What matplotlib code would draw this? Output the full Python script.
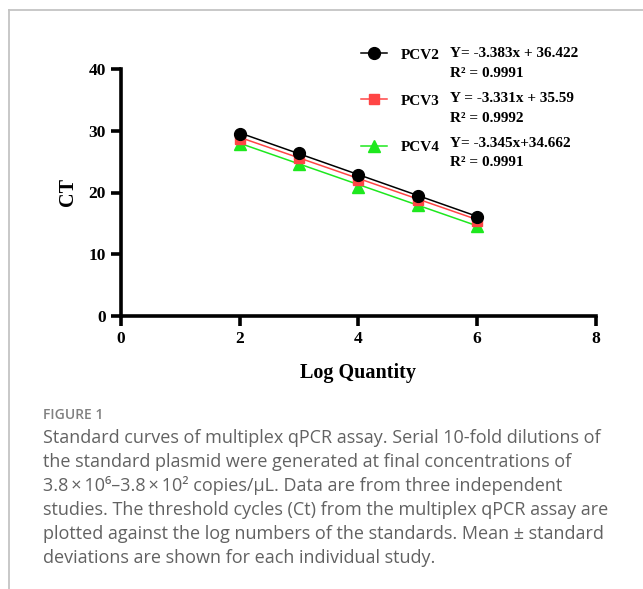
"""
Standard curves of the multiplex qPCR assay (PCV2 / PCV3 / PCV4).
Output: out.png
"""

import matplotlib
matplotlib.use("Agg")
import matplotlib.pyplot as plt
from matplotlib.lines import Line2D

# ── data ─────────────────────────────────────────────────────────────────────
log_qty  = [2, 3, 4, 5, 6]
ct_pcv2  = [29.5, 26.4, 22.8, 19.4, 16.1]
ct_pcv3  = [28.6, 25.6, 22.1, 18.8, 15.4]
ct_pcv4  = [27.8, 24.6, 20.9, 18.0, 14.5]

series   = ["PCV2", "PCV3", "PCV4"]
slopes   = [-3.383, -3.331, -3.345]
icepts   = [36.422, 35.59, 34.662]
eq_text  = ["Y= -3.383x + 36.422", "Y = -3.331x + 35.59", "Y= -3.345x+34.662"]
r2_text  = ["R² = 0.9991", "R² = 0.9992", "R² = 0.9991"]

x_ticks  = [0, 2, 4, 6, 8]
y_ticks  = [0, 10, 20, 30, 40]

caption_head  = "FIGURE 1"
caption_lines = [
    "Standard curves of multiplex qPCR assay. Serial 10-fold dilutions of",
    "the standard plasmid were generated at final concentrations of",
    "3.8\u2009×\u200910⁶–3.8\u2009×\u200910² copies/µL. Data are from three independent",
    "studies. The threshold cycles (Ct) from the multiplex qPCR assay are",
    "plotted against the log numbers of the standards. Mean ± standard",
    "deviations are shown for each individual study.",
]

# ── styles ───────────────────────────────────────────────────────────────────
W, H = 643, 589
SERIF = ["Liberation Serif", "DejaVu Serif"]
SANS  = ["Open Sans", "DejaVu Sans"]
styles = {
    "PCV2": dict(color="black",   marker="o", ms=8.5, z=5),
    "PCV3": dict(color="#ff4545", marker="s", ms=7.5, z=4),
    "PCV4": dict(color="#1ee81e", marker="^", ms=8.0, z=3),
}
ct_by_series = {"PCV2": ct_pcv2, "PCV3": ct_pcv3, "PCV4": ct_pcv4}


def fx(px):  # pixel → figure fraction
    return px / W


def fy(py):
    return 1 - py / H


fig = plt.figure(figsize=(W / 100, H / 100), dpi=100)
ax = fig.add_axes([fx(121), fy(316), fx(596) - fx(121), fy(69) - fy(316)])

handles = []
for name, m, b in zip(series, slopes, icepts):
    st = styles[name]
    xs = [log_qty[0], log_qty[-1]]
    ax.plot(xs, [m * x + b for x in xs], color=st["color"], lw=1.1, zorder=st["z"])
    ax.plot(log_qty, ct_by_series[name], ls="none", marker=st["marker"],
            ms=st["ms"], color=st["color"], zorder=st["z"] + 0.5, clip_on=False)
    handles.append(Line2D([], [], color=st["color"], lw=1.1,
                          marker=st["marker"], ms=st["ms"]))

ax.set_xlim(0, 8); ax.set_ylim(0, 40)
ax.set_xticks(x_ticks); ax.set_yticks(y_ticks)
for s in ("top", "right"):
    ax.spines[s].set_visible(False)
for s in ("left", "bottom"):
    ax.spines[s].set_linewidth(2.6)
ax.tick_params(width=2.6, length=7, direction="out", pad=4)
for lab in ax.get_xticklabels() + ax.get_yticklabels():
    lab.set_family(SERIF); lab.set_fontweight("bold"); lab.set_fontsize(12.5)

ax.set_xlabel("Log Quantity", family=SERIF, fontweight="bold", fontsize=14.5)
ax.set_ylabel("CT", family=SERIF, fontweight="bold", fontsize=14.5)
ax.xaxis.set_label_coords(0.5, (316 - 363) / 247)
ax.yaxis.set_label_coords((78 - 121) / 475, 0.5)

leg = ax.legend(handles, series, loc="upper left", frameon=False,
                bbox_to_anchor=((361 - 121) / 475, (316 - 48) / 247),
                borderpad=0, borderaxespad=0, handlelength=1.7,
                handletextpad=0.9, labelspacing=2.12,
                prop=dict(family=SERIF, weight="bold", size=11))

eq_y = [57, 102, 147]
r2_y = [77, 122, 166]
for e, r, ye, yr in zip(eq_text, r2_text, eq_y, r2_y):
    fig.text(fx(450), fy(ye), e, family=SERIF, fontweight="bold", fontsize=11,
             va="baseline")
    fig.text(fx(450), fy(yr), r, family=SERIF, fontweight="bold", fontsize=11,
             va="baseline")

# page frame (top + left rule)
frame = dict(color="#c4c4c4", lw=1.3, transform=fig.transFigure)
fig.add_artist(Line2D([fx(9), 1], [fy(10), fy(10)], **frame))
fig.add_artist(Line2D([fx(9), fx(9)], [fy(10), 0], **frame))

# caption
fig.text(fx(43), fy(419), caption_head, family=SANS, fontsize=10,
         fontweight="semibold", color="#808080", va="baseline")
for i, line in enumerate(caption_lines):
    fig.text(fx(43), fy(443 + 24 * i), line, family=SANS, fontsize=13,
             color="#626262", va="baseline")

fig.savefig("out.png", dpi=100)
